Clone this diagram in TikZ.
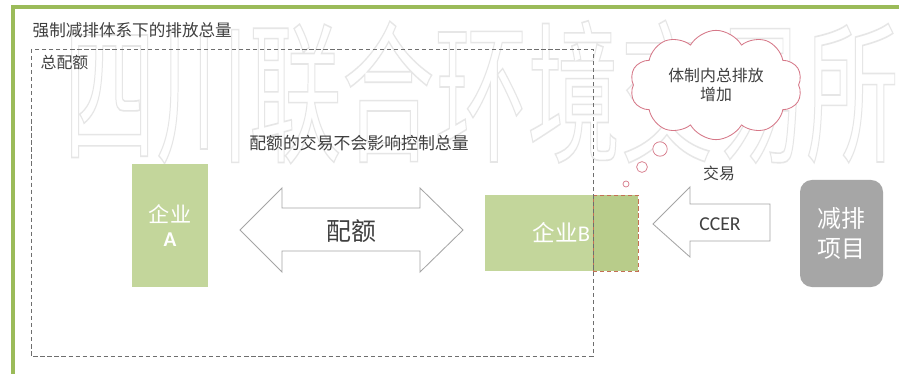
\documentclass[tikz,border=0pt]{standalone}
\usepackage{fontspec}
\setmainfont{Noto Sans CJK SC}
\newfontfamily\latinfont{Carlito}
\usepackage{tikz}
\usetikzlibrary{shapes,positioning,calc}
\definecolor{framegreen}{RGB}{155,187,89}
\definecolor{firmgreen}{RGB}{195,214,155}
\definecolor{overlapgreen}{RGB}{184,204,138}
\definecolor{projectgray}{RGB}{166,166,166}
\definecolor{cloudline}{RGB}{214,120,136}
\definecolor{arrowline}{RGB}{165,165,165}
\definecolor{textgray}{RGB}{64,64,64}
\definecolor{capline}{RGB}{110,110,110}
\definecolor{overlapline}{RGB}{196,112,84}
\definecolor{markgray}{RGB}{230,230,230}
% hollow letters for the watermark
\newcommand{\hollowtext}[1]{\special{pdf:literal direct 1 Tr 0.7 w}#1\special{pdf:literal direct 0 Tr}}

\begin{document}
\begin{tikzpicture}[x=0.025cm, y=-0.025cm,
        firmbox/.style={rectangle, fill=firmgreen, text=white, align=center, inner sep=0pt},
        bigarrow/.style={draw=arrowline, fill=white, line width=0.6pt, line join=miter},
        label/.style={text=textgray, font=\fontsize{11.3}{13.5}\selectfont, inner sep=1pt},
        bubble/.style={circle, draw=cloudline, fill=white, line width=0.5pt, inner sep=0pt}
      ]
        \useasboundingbox (0,0) rectangle (899,374);
        \fill[white] (0,0) rectangle (899,374);

        % watermark
        \node[yscale=1.65, font=\fontsize{66}{66}\selectfont, text=markgray, inner sep=0pt] (mark) at (481,92)
            {\hollowtext{四川联合环境交易所}};

        % outer frame
        \draw[framegreen, line width=3pt] (13,374) -- (13,7) -- (899,7);
        \node[label, anchor=west, font=\fontsize{11.8}{13}\selectfont] (title) at (31,30) {强制减排体系下的排放总量};

        % total quota
        \draw[capline, densely dashed, line width=0.6pt] (31,49) rectangle (593,356);
        \node[label, anchor=west] (cap) at (39,63) {总配额};
        \node[label, font=\fontsize{12}{14}\selectfont] (note) at (359,143) {配额的交易不会影响控制总量};

        % firms
        \node[firmbox, minimum width=1.9cm, minimum height=3.075cm, font=\fontsize{15}{17.7}\selectfont]
            (firmA) at (170,225.5) {企业\\{\latinfont\bfseries A}};
        \node[firmbox, minimum width=3.825cm, minimum height=1.9cm, font=\fontsize{16}{18}\selectfont]
            (firmB) at (561.5,233) {企业{\latinfont B}};
        \node[rectangle, fill=overlapgreen, draw=overlapline, densely dashed, line width=0.6pt,
              minimum width=1.125cm, minimum height=1.9cm, inner sep=0pt] (extra) at (615.5,233) {};
        \draw[capline, densely dashed, line width=0.6pt] (593,195) -- (593,271);

        % allowance trading
        \draw[bigarrow] (240,230) -- (282,188) -- (282,208) -- (420,208) -- (420,188) -- (463,230)
            -- (420,272) -- (420,251) -- (282,251) -- (282,272) -- cycle;
        \node[label, font=\fontsize{17.7}{20}\selectfont] (quota) at (351,231) {配额};

        % offset project
        \node[rectangle, rounded corners=0.3cm, fill=projectgray, text=white, align=center,
              minimum width=2.075cm, minimum height=2.675cm, font=\fontsize{17}{21}\selectfont]
            (project) at (841.5,233.5) {减排\\项目};
        \draw[bigarrow] (653,224) -- (690,187) -- (690,204) -- (770,204) -- (770,241) -- (690,241)
            -- (690,257) -- cycle;
        \node[label, font=\latinfont\fontsize{14}{16}\selectfont] (ccer) at (720,224) {CCER};
        \node[label] (trade) at (719,173) {交易};

        % thought cloud
        \node[cloud, cloud puffs=10, cloud puff arc=120, aspect=1.7, draw=cloudline, fill=white,
              line width=0.6pt, minimum width=4.3cm, minimum height=2.55cm, align=center,
              text=textgray, font=\fontsize{11.3}{14}\selectfont]
            (thought) at (716,85) {体制内总排放\\增加};
        \node[bubble, minimum size=0.36cm] (b1) at (660,149) {};
        \node[bubble, minimum size=0.27cm] (b2) at (642,167) {};
        \node[bubble, minimum size=0.15cm] (b3) at (626,184) {};
      \end{tikzpicture}
\end{document}
